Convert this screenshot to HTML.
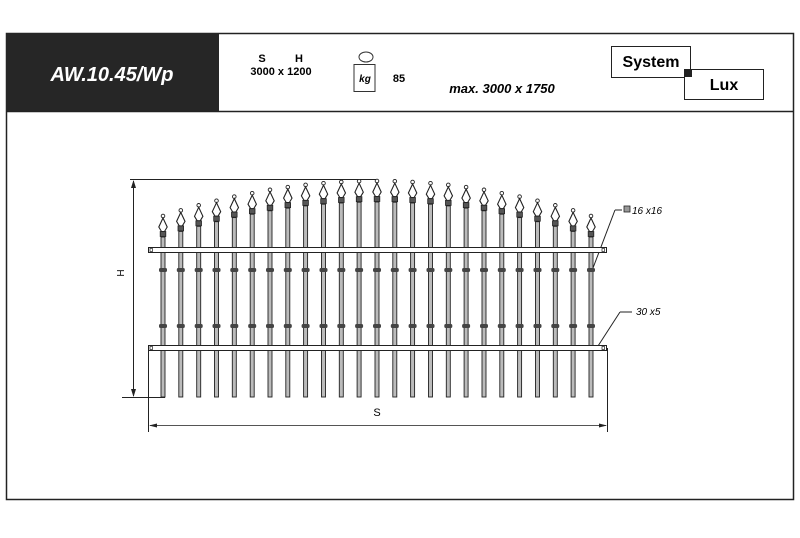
<!DOCTYPE html>
<html><head><meta charset="utf-8"><style>
body{margin:0;background:#fff;width:800px;height:533px;overflow:hidden;font-family:"Liberation Sans",sans-serif}
</style></head><body>
<svg width="800" height="533" viewBox="0 0 800 533" xmlns="http://www.w3.org/2000/svg" font-family="Liberation Sans, sans-serif">
<defs>
<g id="sp">
<circle cx="0" cy="0" r="1.8" fill="#fff" stroke="#222" stroke-width="0.9"/>
<path d="M0,2 L-4.2,11 L-1.5,15.5 L1.5,15.5 L4.2,11 Z" fill="#fff" stroke="#222" stroke-width="1.1"/>
<rect x="-2.8" y="15.5" width="5.6" height="5" fill="#555" stroke="#222" stroke-width="0.8"/>
</g>
<g id="col"><rect x="-4" y="-2" width="8" height="4" rx="1.5" fill="#444"/></g>
</defs>
<rect x="6.5" y="33.5" width="787" height="466" fill="#fff" stroke="#222" stroke-width="1.5"/>
<rect x="6" y="33" width="213" height="78" fill="#262626"/>
<line x1="6" y1="111.5" x2="794" y2="111.5" stroke="#222" stroke-width="1.5"/>
<text x="112" y="81" fill="#fff" font-size="20" font-weight="bold" font-style="italic" text-anchor="middle">AW.10.45/Wp</text>
<text x="262" y="62" font-size="11" font-weight="bold" text-anchor="middle">S</text>
<text x="299" y="62" font-size="11" font-weight="bold" text-anchor="middle">H</text>
<text x="281" y="75" font-size="11" font-weight="bold" text-anchor="middle">3000 x 1200</text>
<ellipse cx="366" cy="57" rx="7" ry="5" fill="#fff" stroke="#333"/>
<rect x="354" y="64.5" width="21" height="27" fill="#fff" stroke="#333"/>
<text x="365" y="82" font-size="10" font-weight="bold" font-style="italic" text-anchor="middle">kg</text>
<text x="399" y="82" font-size="11" font-weight="bold" text-anchor="middle">85</text>
<text x="502" y="93" font-size="13" font-weight="bold" font-style="italic" text-anchor="middle">max. 3000 x 1750</text>
<rect x="611.5" y="46.5" width="79" height="31" fill="#fff" stroke="#222"/>
<text x="651" y="67" font-size="16" font-weight="bold" text-anchor="middle">System</text>
<rect x="684.5" y="69.5" width="79" height="30" fill="#fff" stroke="#222"/>
<text x="724" y="90" font-size="16" font-weight="bold" text-anchor="middle">Lux</text>
<rect x="684" y="69" width="8" height="8" fill="#222"/>

<!-- dimensions -->
<g stroke="#222" stroke-width="1" fill="none">
<line x1="130" y1="179.5" x2="377" y2="179.5"/>
<line x1="133.5" y1="181" x2="133.5" y2="396"/>
<line x1="122" y1="397.5" x2="165" y2="397.5"/>
<line x1="148.5" y1="348" x2="148.5" y2="432"/>
<line x1="607.5" y1="348" x2="607.5" y2="432"/>
<line x1="150" y1="425.5" x2="606" y2="425.5" stroke="#555"/>
<line x1="593" y1="268" x2="615" y2="210"/>
<line x1="622" y1="210" x2="615" y2="210" />
<line x1="598" y1="346" x2="620" y2="312"/>
<line x1="620" y1="312" x2="632" y2="312"/>
</g>
<path d="M133.5,180 l-2.5,8 h5z M133.5,397 l-2.5,-8 h5z M149,425.5 l8,-2 v4z M607,425.5 l-8,-2 v4z" fill="#222"/>
<text x="124" y="273" font-size="10" transform="rotate(-90 124 273)" text-anchor="middle">H</text>
<text x="377" y="416" font-size="11" text-anchor="middle">S</text>
<rect x="624" y="206" width="6" height="6" fill="#999" stroke="#222" stroke-width="0.8"/>
<text x="632" y="214" font-size="10" font-style="italic">16 x16</text>
<text x="636" y="315" font-size="10" font-style="italic">30 x5</text>

<!-- pickets -->
<g fill="#bbb" stroke="#222" stroke-width="0.9">
<rect x="161" y="237" width="4" height="160"/>
<rect x="178.8" y="231.4" width="4" height="165.6"/>
<rect x="196.7" y="226.3" width="4" height="170.7"/>
<rect x="214.5" y="221.7" width="4" height="175.3"/>
<rect x="232.3" y="217.6" width="4" height="179.4"/>
<rect x="250.2" y="214.2" width="4" height="182.8"/>
<rect x="268" y="210.8" width="4" height="186.2"/>
<rect x="285.8" y="208.1" width="4" height="188.9"/>
<rect x="303.6" y="205.9" width="4" height="191.1"/>
<rect x="321.5" y="204.2" width="4" height="192.8"/>
<rect x="339.3" y="203" width="4" height="194"/>
<rect x="357.1" y="202.2" width="4" height="194.8"/>
<rect x="375" y="202" width="4" height="195"/>
<rect x="392.8" y="202.2" width="4" height="194.8"/>
<rect x="410.6" y="203" width="4" height="194"/>
<rect x="428.5" y="204.2" width="4" height="192.8"/>
<rect x="446.3" y="205.9" width="4" height="191.1"/>
<rect x="464.1" y="208.1" width="4" height="188.9"/>
<rect x="482" y="210.8" width="4" height="186.2"/>
<rect x="499.8" y="214.2" width="4" height="182.8"/>
<rect x="517.6" y="217.6" width="4" height="179.4"/>
<rect x="535.5" y="221.7" width="4" height="175.3"/>
<rect x="553.3" y="226.3" width="4" height="170.7"/>
<rect x="571.1" y="231.4" width="4" height="165.6"/>
<rect x="589" y="237" width="4" height="160"/>
</g>
<use href="#sp" x="163" y="216"/><use href="#sp" x="180.8" y="210.4"/><use href="#sp" x="198.7" y="205.3"/><use href="#sp" x="216.5" y="200.7"/><use href="#sp" x="234.3" y="196.6"/><use href="#sp" x="252.2" y="193.2"/><use href="#sp" x="270" y="189.8"/><use href="#sp" x="287.8" y="187.1"/><use href="#sp" x="305.6" y="184.9"/><use href="#sp" x="323.5" y="183.2"/><use href="#sp" x="341.3" y="182"/><use href="#sp" x="359.1" y="181.2"/><use href="#sp" x="377" y="181"/><use href="#sp" x="394.8" y="181.2"/><use href="#sp" x="412.6" y="182"/><use href="#sp" x="430.5" y="183.2"/><use href="#sp" x="448.3" y="184.9"/><use href="#sp" x="466.1" y="187.1"/><use href="#sp" x="484" y="189.8"/><use href="#sp" x="501.8" y="193.2"/><use href="#sp" x="519.6" y="196.6"/><use href="#sp" x="537.5" y="200.7"/><use href="#sp" x="555.3" y="205.3"/><use href="#sp" x="573.1" y="210.4"/><use href="#sp" x="591" y="216"/>
<!-- rails -->
<rect x="148.5" y="247.5" width="458" height="5" fill="#fff" stroke="#222"/>
<rect x="148.5" y="345.5" width="458" height="5" fill="#fff" stroke="#222"/>
<rect x="150" y="248.5" width="2.5" height="3" fill="none" stroke="#222" stroke-width="0.7"/>
<rect x="602" y="248.5" width="2.5" height="3" fill="none" stroke="#222" stroke-width="0.7"/>
<rect x="150" y="346.5" width="2.5" height="3" fill="none" stroke="#222" stroke-width="0.7"/>
<rect x="602" y="346.5" width="2.5" height="3" fill="none" stroke="#222" stroke-width="0.7"/>
<!-- collars -->
<g>
<use href="#col" x="163" y="270"/><use href="#col" x="180.8" y="270"/><use href="#col" x="198.7" y="270"/><use href="#col" x="216.5" y="270"/><use href="#col" x="234.3" y="270"/><use href="#col" x="252.2" y="270"/><use href="#col" x="270" y="270"/><use href="#col" x="287.8" y="270"/><use href="#col" x="305.6" y="270"/><use href="#col" x="323.5" y="270"/><use href="#col" x="341.3" y="270"/><use href="#col" x="359.1" y="270"/><use href="#col" x="377" y="270"/><use href="#col" x="394.8" y="270"/><use href="#col" x="412.6" y="270"/><use href="#col" x="430.5" y="270"/><use href="#col" x="448.3" y="270"/><use href="#col" x="466.1" y="270"/><use href="#col" x="484" y="270"/><use href="#col" x="501.8" y="270"/><use href="#col" x="519.6" y="270"/><use href="#col" x="537.5" y="270"/><use href="#col" x="555.3" y="270"/><use href="#col" x="573.1" y="270"/><use href="#col" x="591" y="270"/>
<use href="#col" x="163" y="326"/><use href="#col" x="180.8" y="326"/><use href="#col" x="198.7" y="326"/><use href="#col" x="216.5" y="326"/><use href="#col" x="234.3" y="326"/><use href="#col" x="252.2" y="326"/><use href="#col" x="270" y="326"/><use href="#col" x="287.8" y="326"/><use href="#col" x="305.6" y="326"/><use href="#col" x="323.5" y="326"/><use href="#col" x="341.3" y="326"/><use href="#col" x="359.1" y="326"/><use href="#col" x="377" y="326"/><use href="#col" x="394.8" y="326"/><use href="#col" x="412.6" y="326"/><use href="#col" x="430.5" y="326"/><use href="#col" x="448.3" y="326"/><use href="#col" x="466.1" y="326"/><use href="#col" x="484" y="326"/><use href="#col" x="501.8" y="326"/><use href="#col" x="519.6" y="326"/><use href="#col" x="537.5" y="326"/><use href="#col" x="555.3" y="326"/><use href="#col" x="573.1" y="326"/><use href="#col" x="591" y="326"/>
</g>
</svg>
</body></html>
